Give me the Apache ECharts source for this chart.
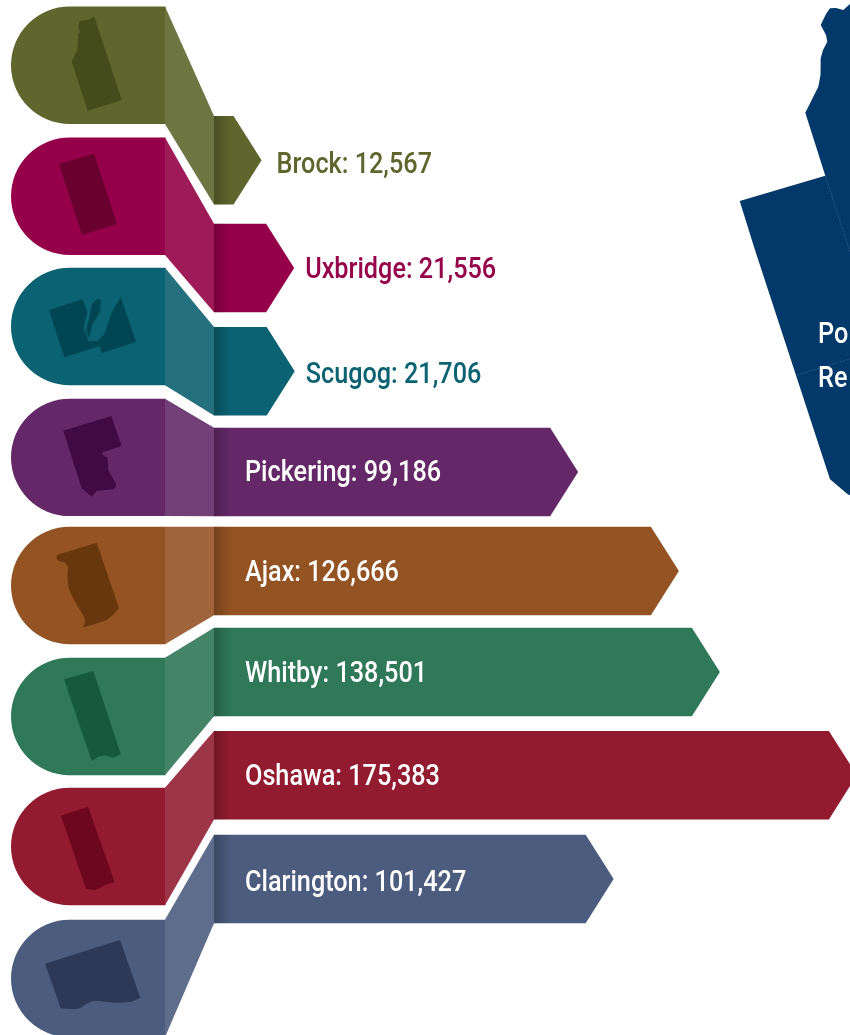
<!DOCTYPE html>
<html>
<head>
<meta charset="utf-8">
<title>Durham population</title>
<script src="https://cdn.jsdelivr.net/npm/echarts@6/dist/echarts.min.js"></script>
<style>
  html, body { margin: 0; padding: 0; background: #fff; }
  #chart { width: 850px; height: 1035px; overflow: hidden; }
</style>
</head>
<body>
<div id="chart"></div>
<script>
const categories = ["Brock", "Uxbridge", "Scugog", "Pickering", "Ajax", "Whitby", "Oshawa", "Clarington"];
// printed populations
const populations = [12567, 21556, 21706, 99186, 126666, 138501, 175383, 101427];
// bar lengths as drawn, the picture does not scale them exactly (Clarington is longer than its number)
const barValues = [12567, 21556, 21706, 99900, 127700, 139000, 176800, 109700];

const mainColors = ["#5e652d", "#96004b", "#0b6272", "#642868", "#945323", "#2f7858", "#921b30", "#4b5c7e"];
const neckColors = ["#6d7542", "#9f1b58", "#24707e", "#733f77", "#a0643c", "#458467", "#9c3548", "#5e6d8c"];
const darkColors = ["#454c1c", "#69002f", "#004553", "#420a45", "#68370d", "#165a3e", "#6c071e", "#2d3a57"];

// layout, px
const headShift = [0, 0.6, 0.5, 1, -1.3, -0.7, -1.1, 0.5];
const fanOffset = [95, 72.4, 45.2, 15.6, -15.8, -45.2, -72.4, -99];
const labelShift = [6, 3, 5, 2, 3, 3, 3, 5];

const font = '500 29px Roboto, "Liberation Sans", sans-serif';
const textSqueeze = 0.87; // the original type is condensed

function renderRow(params, api) {
  const i = params.dataIndex;
  const tip = api.coord([api.value(0), i]);
  const headY = tip[1] + headShift[i];
  const barY = tip[1] + fanOffset[i];
  const headH = 58.7, barH = 44.3;
  const flat = tip[0] - 28;
  const outside = i < 3;
  return {
    type: "group",
    children: [
      {
        type: "rect",
        shape: { x: 11, y: headY - headH, width: 154.5, height: headH * 2, r: [headH, 0, 0, headH] },
        style: { fill: mainColors[i] }
      },
      {
        type: "polygon",
        shape: { points: [[165, headY - headH], [214, barY - barH], [214, barY + barH], [165, headY + headH]] },
        style: { fill: neckColors[i] }
      },
      {
        type: "polygon",
        shape: { points: [[214, barY - barH], [flat, barY - barH], [tip[0], barY], [flat, barY + barH], [214, barY + barH]] },
        style: { fill: mainColors[i] }
      },
      {
        type: "rect",
        shape: { x: 214, y: barY - barH, width: 17, height: barH * 2 },
        style: {
          fill: {
            type: "linear", x: 0, y: 0, x2: 1, y2: 0,
            colorStops: [{ offset: 0, color: "rgba(0,0,0,0.22)" }, { offset: 1, color: "rgba(0,0,0,0)" }]
          }
        }
      },
      {
        type: "text",
        x: outside ? tip[0] + (i === 0 ? 15 : 11) : 245,
        y: barY + labelShift[i],
        scaleX: textSqueeze,
        style: {
          text: categories[i] + ": " + populations[i].toLocaleString("en-US"),
          font: font,
          fill: outside ? mainColors[i] : "#fff",
          textAlign: "left",
          textVerticalAlign: "middle"
        }
      }
    ]
  };
}

// little municipality outlines in the round heads
const outlines = [
  [0, [[94.3,16.7],[121.7,100],[87.7,111],[71.7,61.7],[77.3,50],[78,35],[80,31.7],[78,26.7],[80,20.7],[87.3,20]]],
  [1, [[94,153.7],[117,224],[82,235],[59,164]]],
  [2, [[49,310],[82.7,299.3],[87.3,311.7],[83.3,328.3],[87.3,336.7],[88,341],[98,341],[100,346],[64.3,357.3]]],
  [2, [[120.7,296.7],[136,341.7],[101.7,353.3],[98,340],[104,335],[112,312]]],
  [2, [[97,299],[101,300],[100,312],[92,325],[89,338],[86,330],[90,315],[92,304]]],
  [3, [[63.3,430.7],[111.3,416],[121.7,446],[101.7,452.7],[104,456],[107.3,457.3],[108,464],[108.3,470],[112,477],[116,483.3],[115.5,487],[113.3,489.3],[105,490],[96.7,490.7],[91.7,496.7],[81.7,488.3]]],
  [4, [[56.7,555],[96.7,542.7],[119,608.3],[113,615],[106.7,620],[95,624],[83.3,627.3],[85,622],[84,616.7],[80,610],[75,601.7],[71,594],[68.3,586.7],[67.5,576],[68,566.7],[65,562.5],[58.3,560.7],[56.5,558]]],
  [5, [[64,679.3],[93.3,671],[120.7,754],[113.3,757.7],[109,756.5],[105,755],[98,757],[91.7,761]]],
  [6, [[61,815.7],[88,806.7],[114.7,882.3],[105,885],[95,890.3],[90,889.5],[86,889]]],
  [7, [[45,963.7],[120,940],[140.3,997.7],[131.7,1001.7],[122,1002.5],[113.3,1002.7],[100,1001],[93.3,1001],[86,1004],[80,1008.3],[74,1009.3],[60.7,1008.3]]]
];

const regionOutline = [[826,14],[830,8.3],[836,8],[843.3,10],[850,4],[860,4],[860,500],[847.7,494.3],[830,479.3],[755,250],[739.7,201],[825.3,175.7],[805.3,112.7],[818.3,86.7],[820.5,75],[820.7,58.3],[823,50],[827.3,41.7],[826,35],[820.7,25]];
const regionBorders = [[[825.3,175.7],[850,252]], [[797,375],[850,359]]];
const regionText = [["Po", 818, 336], ["Re", 818, 380]];

const graphics = outlines.map(o => ({
  type: "polygon", z: 10, silent: true,
  shape: { points: o[1] },
  style: { fill: darkColors[o[0]] }
}));
graphics.push({ type: "polygon", z: 10, silent: true, shape: { points: regionOutline }, style: { fill: "#03396a" } });
regionBorders.forEach(b => graphics.push({
  type: "line", z: 11, silent: true,
  shape: { x1: b[0][0], y1: b[0][1], x2: b[1][0], y2: b[1][1] },
  style: { stroke: "#3f6690", lineWidth: 0.6, lineDash: [2, 1] }
}));
regionText.forEach(t => graphics.push({
  type: "text", z: 12, silent: true, x: t[1], y: t[2], scaleX: textSqueeze,
  style: { text: t[0], font: font, fill: "#fff", textAlign: "left", textVerticalAlign: "middle" }
}));

const chart = echarts.init(document.getElementById("chart"));
chart.setOption({
  animation: false,
  grid: { left: 216, top: 0, right: 0, bottom: 0 },
  // Oshawa runs a touch past the page edge, as in the original
  xAxis: { type: "value", min: 0, max: 174900, show: false },
  yAxis: { type: "value", min: -0.5, max: 7.437, inverse: true, show: false },
  graphic: graphics,
  series: [
    {
      type: "custom",
      renderItem: renderRow,
      encode: { x: 0, y: 1 },
      data: categories.map((c, i) => [barValues[i], i])
    }
  ]
});
window.addEventListener("resize", function() {
  chart.resize();
});
</script>
</body>
</html>
